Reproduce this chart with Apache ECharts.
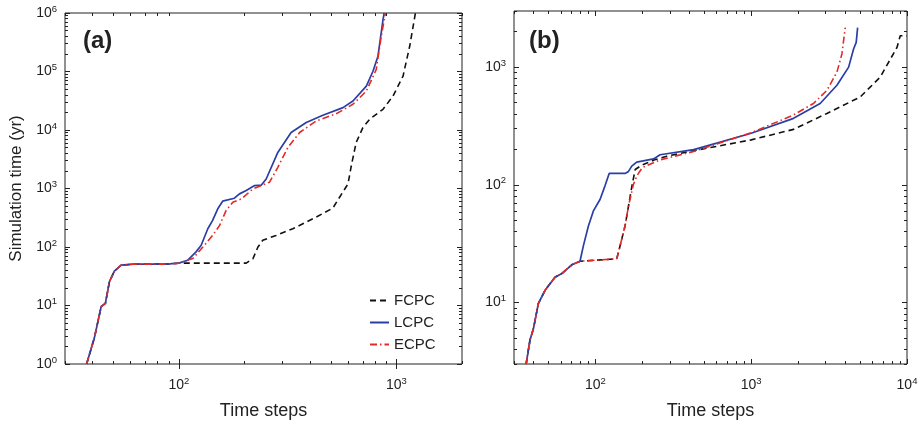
<!DOCTYPE html>
<html><head><meta charset="utf-8">
<script src="https://cdn.jsdelivr.net/npm/echarts@6/dist/echarts.min.js"></script>
<style>html,body{margin:0;padding:0;background:#fff}#c{width:921px;height:425px}</style>
</head><body><div id="c"></div>
<script>
// ---------- data ----------
const seriesNames = ['FCPC', 'LCPC', 'ECPC'];

// panel (a): [time steps, simulation time (yr)]
const aFCPC = [[37.7,1],[40.9,2.77],[44,9.6],[46,10.9],[48,25.5],[50.6,38.7],[54.3,48.9],[61.5,50.8],[87.5,51],[100,52.9],[204,53],[219,63],[231,100],[243,130],[280,158],[334,205],[428,325],[510,462],[548,710],[599,1200],[620,2450],[653,6120],[701,11000],[753,15270],[867,22600],[964,38000],[1072,83600],[1150,270000],[1222,1000000]];
const aLCPC = [[37.7,1],[40.9,2.77],[44,9.6],[46,10.9],[48,25.5],[50.6,38.7],[54.3,48.9],[61.5,50.8],[87.5,51],[100,52.9],[110,59.5],[120,82.5],[126.7,107],[135.9,205],[143,285],[151,450],[159,607],[180,682],[190,809],[204,922],[223,1122],[239,1140],[252,1455],[285,4140],[328,9060],[385,13400],[459,17860],[568,24100],[631,31300],[727,56300],[780,101000],[822,182000],[867,766000],[878,1000000]];
const aECPC = [[37.7,1],[40.9,2.77],[44,9.6],[46,10.9],[48,25.5],[50.6,38.7],[54.3,48.9],[61.5,50.8],[87.5,51],[100,52.9],[116,63.5],[129,100],[143,158],[154,234],[165,422],[177,584],[194,665],[219,985],[261,1280],[285,2300],[317,5030],[359,9060],[428,14300],[529,19000],[631,27500],[727,46300],[807,108000],[851,398000],[890,1000000]];

// panel (b)
const bFCPC = [[35.9,3],[38,4.8],[40,6],[43,9.8],[47.5,12.7],[55,16.4],[60.8,17.6],[70.5,20.9],[79.6,22.4],[137,23.5],[144,30.4],[155,44.9],[163,66],[172,100],[180,135],[200,148],[240,163],[287,175],[427,195],[1000,241],[1870,296],[3060,404],[5010,558],[6740,824],[8630,1476],[9050,1850],[10000,1850]];
const bLCPC = [[35.9,3],[38,4.8],[40,6],[43,9.8],[47.5,12.7],[55,16.4],[60.8,17.6],[70.5,20.9],[79.6,22.4],[83.7,30.4],[90.2,44.9],[97,60],[107,75],[115,97.5],[122.5,125],[155,125],[163,130],[171,144],[184,156],[236,166],[260,180],[427,199],[601,226],[1000,274],[1870,367],[2770,491],[3550,701],[4220,1000],[4540,1426],[4720,1622],[4820,2170]];
const bECPC = [[35.9,3],[38,4.8],[40,6],[43,9.8],[47.5,12.7],[55,16.4],[60.8,17.6],[70.5,20.9],[79.6,22.4],[137,23.5],[144,30.4],[155,44.9],[163,66],[175,100],[185,120],[200,140],[260,163],[427,192],[1000,277],[1870,392],[2510,491],[3060,635],[3550,907],[3820,1294],[4016,2170]];

// axis ranges and ticks
const aXRange = [30, 2000], aYRange = [1, 1000000];
const bXRange = [30, 10000], bYRange = [3, 3000];
const aXMajor = [100, 1000];
const aXMinor = [30,40,50,60,70,80,90,200,300,400,500,600,700,800,900,2000];
const aYMajor = [1,10,100,1000,10000,100000,1000000];
const aYMinor = [];
[1,10,100,1000,10000,100000].forEach(d => { for (let k = 2; k <= 9; k++) aYMinor.push(k*d); });
const bXMajor = [100, 1000, 10000];
const bXMinor = [30,40,50,60,70,80,90,200,300,400,500,600,700,800,900,2000,3000,4000,5000,6000,7000,8000,9000];
const bYMajor = [10, 100, 1000];
const bYMinor = [3,4,5,6,7,8,9,20,30,40,50,60,70,80,90,200,300,400,500,600,700,800,900,2000,3000];

// ---------- chart ----------
const FONT = 'Liberation Sans, Arial, Helvetica, sans-serif';
const L = Math.log10;
const rich = {
  b: {fontSize: 14, fontFamily: FONT, color: '#222', lineHeight: 18},
  e: {fontSize: 9.5, fontFamily: FONT, color: '#222', verticalAlign: 'top', lineHeight: 18}
};
function helper(g, pos, range, vals, len, labels, name, nameGap, nameSize) {
  return {
    type: 'value', gridIndex: g, position: pos, min: L(range[0]), max: L(range[1]),
    axisLine: {show: false}, splitLine: {show: false},
    axisTick: {show: true, inside: true, length: len, customValues: vals.map(L), lineStyle: {color: '#222', width: 1}},
    axisLabel: labels ? {show: true, customValues: vals.map(L), margin: pos === 'bottom' ? 12 : 8,
      formatter: v => '{b|10}{e|' + Math.round(v) + '}', rich: rich} : {show: false},
    name: name || '', nameLocation: 'middle', nameGap: nameGap || 0,
    nameTextStyle: {fontSize: nameSize || 16, fontFamily: FONT, color: '#222'}
  };
}
function axesFor(g, dim, range, major, minor, name, nameGap, nameSize) {
  const p1 = dim === 'x' ? 'bottom' : 'left';
  const p2 = dim === 'x' ? 'top' : 'right';
  return [
    {type: 'log', logBase: 10, gridIndex: g, min: range[0], max: range[1], show: false},
    helper(g, p1, range, major, 5, true, name, nameGap, nameSize),
    helper(g, p1, range, minor, 3, false),
    helper(g, p2, range, major, 5, false),
    helper(g, p2, range, minor, 3, false)
  ];
}
const xAxes = [].concat(
  axesFor(0, 'x', aXRange, aXMajor, aXMinor, 'Time steps', 38, 18),
  axesFor(1, 'x', bXRange, bXMajor, bXMinor, 'Time steps', 38, 18));
const yAxes = [].concat(
  axesFor(0, 'y', aYRange, aYMajor, aYMinor, 'Simulation time (yr)', 40, 17),
  axesFor(1, 'y', bYRange, bYMajor, bYMinor, '', 0));

const styles = {
  FCPC: {color: '#111111', width: 1.6, type: [6, 4]},
  LCPC: {color: '#2a3fa5', width: 1.7, type: 'solid'},
  ECPC: {color: '#e32a26', width: 1.6, type: [7, 3, 1.5, 3]}
};
function line(name, data, g) {
  return {
    name: name, type: 'line', data: data, xAxisIndex: g * 5, yAxisIndex: g * 5,
    symbol: 'none', showSymbol: false, smooth: false, clip: true,
    lineStyle: styles[name], itemStyle: {color: styles[name].color}, z: name === 'ECPC' ? 4 : 3
  };
}

const chart = echarts.init(document.getElementById('c'), null, {renderer: 'canvas'});
chart.setOption({
  animation: false,
  backgroundColor: '#fff',
  title: [
    {text: '(a)', left: 78, top: 24, textStyle: {fontSize: 24, fontWeight: 'bold', fontFamily: FONT, color: '#222'}},
    {text: '(b)', left: 524, top: 24, textStyle: {fontSize: 24, fontWeight: 'bold', fontFamily: FONT, color: '#222'}}
  ],
  grid: [
    {left: 65, top: 13, width: 397, height: 353, show: true, borderColor: '#222', borderWidth: 1, containLabel: false},
    {left: 514, top: 11, width: 393, height: 355, show: true, borderColor: '#222', borderWidth: 1, containLabel: false}
  ],
  legend: {
    data: seriesNames, orient: 'vertical', left: 364, top: 288, itemWidth: 19, itemHeight: 14, itemGap: 7,
    itemStyle: {color: 'transparent', borderWidth: 0, opacity: 0},
    textStyle: {fontSize: 15, fontFamily: FONT, color: '#222'}, selectedMode: false
  },
  xAxis: xAxes,
  yAxis: yAxes,
  series: [
    line('FCPC', aFCPC, 0), line('LCPC', aLCPC, 0), line('ECPC', aECPC, 0),
    line('FCPC', bFCPC, 1), line('LCPC', bLCPC, 1), line('ECPC', bECPC, 1)
  ]
});
</script></body></html>
